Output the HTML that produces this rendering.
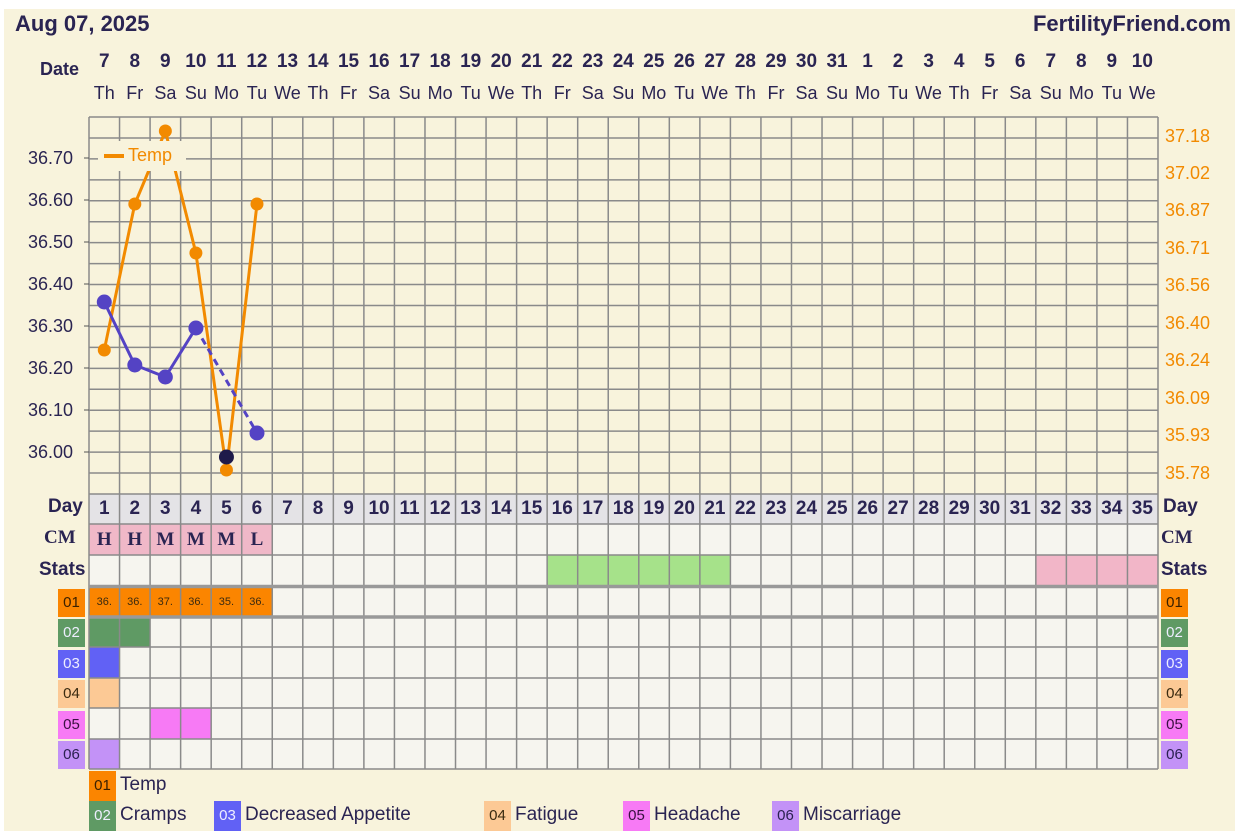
<!DOCTYPE html>
<html><head><meta charset="utf-8"><style>
*{margin:0;padding:0;box-sizing:border-box}
body{width:1239px;height:839px;background:#fff;position:relative;overflow:hidden;font-family:"Liberation Sans",sans-serif;color:#2a2452}
#panel{position:absolute;left:4px;top:9px;width:1231px;height:822px;background:#f8f3dc}
.row{position:absolute;left:89px;display:flex;white-space:nowrap}
.row span{display:block;width:30.543px;text-align:center}
.b{font-weight:bold}
.abs{position:absolute;white-space:nowrap}
.sq{position:absolute;width:27px;height:28px;font-size:15px;line-height:28px;text-align:center}
.lg{position:absolute;font-size:19px;line-height:28px;white-space:nowrap;color:#2a2452}
.lg i{display:inline-block;font-style:normal;width:27px;height:30px;line-height:30px;text-align:center;font-size:15px;margin-right:4px;vertical-align:top}
svg{position:absolute;left:0;top:0}
</style></head><body>
<div id="panel"></div>
<svg id="s" width="1239" height="839"></svg>
<div class="abs b" style="left:15px;top:11px;font-size:22px">Aug 07, 2025</div>
<div class="abs b" style="right:8px;top:11px;font-size:22px">FertilityFriend.com</div>
<div class="abs b" style="left:40px;top:59px;font-size:18px">Date</div>
<div class="row b" style="top:51px;font-size:19px"><span>7</span><span>8</span><span>9</span><span>10</span><span>11</span><span>12</span><span>13</span><span>14</span><span>15</span><span>16</span><span>17</span><span>18</span><span>19</span><span>20</span><span>21</span><span>22</span><span>23</span><span>24</span><span>25</span><span>26</span><span>27</span><span>28</span><span>29</span><span>30</span><span>31</span><span>1</span><span>2</span><span>3</span><span>4</span><span>5</span><span>6</span><span>7</span><span>8</span><span>9</span><span>10</span></div>
<div class="row" style="top:83px;font-size:18px"><span>Th</span><span>Fr</span><span>Sa</span><span>Su</span><span>Mo</span><span>Tu</span><span>We</span><span>Th</span><span>Fr</span><span>Sa</span><span>Su</span><span>Mo</span><span>Tu</span><span>We</span><span>Th</span><span>Fr</span><span>Sa</span><span>Su</span><span>Mo</span><span>Tu</span><span>We</span><span>Th</span><span>Fr</span><span>Sa</span><span>Su</span><span>Mo</span><span>Tu</span><span>We</span><span>Th</span><span>Fr</span><span>Sa</span><span>Su</span><span>Mo</span><span>Tu</span><span>We</span></div>
<div class="abs" style="left:28px;top:147.5px;font-size:18px;line-height:21px">36.70<br><br>36.60<br><br>36.50<br><br>36.40<br><br>36.30<br><br>36.20<br><br>36.10<br><br>36.00</div>
<div class="abs" style="left:1165px;top:126.6px;font-size:18px;line-height:18.72px;color:#f28a00">37.18<br><br>37.02<br><br>36.87<br><br>36.71<br><br>36.56<br><br>36.40<br><br>36.24<br><br>36.09<br><br>35.93<br><br>35.78</div>
<div class="abs" style="left:98px;top:141px;width:88px;height:30px;background:#f8f3dc;font-size:18px;line-height:28px;color:#f28a00"><span style="display:inline-block;width:20px;height:4px;background:#f28a00;vertical-align:middle;margin:0 4px 0 6px"></span>Temp</div>
<div class="row b" style="top:497px;font-size:19px;line-height:24px"><span>1</span><span>2</span><span>3</span><span>4</span><span>5</span><span>6</span><span>7</span><span>8</span><span>9</span><span>10</span><span>11</span><span>12</span><span>13</span><span>14</span><span>15</span><span>16</span><span>17</span><span>18</span><span>19</span><span>20</span><span>21</span><span>22</span><span>23</span><span>24</span><span>25</span><span>26</span><span>27</span><span>28</span><span>29</span><span>30</span><span>31</span><span>32</span><span>33</span><span>34</span><span>35</span></div>
<div class="row b" style="top:528px;font-size:19px;line-height:24px;font-family:'Liberation Serif',serif"><span>H</span><span>H</span><span>M</span><span>M</span><span>M</span><span>L</span></div>
<div class="row" style="top:594px;font-size:11px;line-height:16px;color:#3a2a10"><span>36.</span><span>36.</span><span>37.</span><span>36.</span><span>35.</span><span>36.</span></div>
<div class="abs b" style="left:48px;top:496px;font-size:19px">Day</div>
<div class="abs b" style="left:44px;top:527px;font-size:19px;font-family:'Liberation Serif',serif">CM</div>
<div class="abs b" style="left:39px;top:559px;font-size:19px">Stats</div>
<div class="abs b" style="left:1163px;top:496px;font-size:19px">Day</div>
<div class="abs b" style="left:1161px;top:527px;font-size:19px;font-family:'Liberation Serif',serif">CM</div>
<div class="abs b" style="left:1161px;top:559px;font-size:19px">Stats</div>
<div class="sq" style="left:58px;top:589px;background:#fb8500;color:#3a2000">01</div>
<div class="sq" style="left:58px;top:619px;background:#5f9a64;color:#eef">02</div>
<div class="sq" style="left:58px;top:650px;background:#6161f5;color:#eef">03</div>
<div class="sq" style="left:58px;top:680px;background:#fcc995;color:#3a2a10">04</div>
<div class="sq" style="left:58px;top:711px;background:#f77af5;color:#3a1040">05</div>
<div class="sq" style="left:58px;top:741px;background:#c392f7;color:#2a2050">06</div>
<div class="sq" style="left:1161px;top:589px;background:#fb8500;color:#3a2000">01</div>
<div class="sq" style="left:1161px;top:619px;background:#5f9a64;color:#eef">02</div>
<div class="sq" style="left:1161px;top:650px;background:#6161f5;color:#eef">03</div>
<div class="sq" style="left:1161px;top:680px;background:#fcc995;color:#3a2a10">04</div>
<div class="sq" style="left:1161px;top:711px;background:#f77af5;color:#3a1040">05</div>
<div class="sq" style="left:1161px;top:741px;background:#c392f7;color:#2a2050">06</div>
<div class="lg" style="left:89px;top:771px"><i style="background:#fb8500;color:#3a2000">01</i>Temp</div>
<div class="lg" style="left:89px;top:801px"><i style="background:#5f9a64;color:#eef">02</i>Cramps</div>
<div class="lg" style="left:214px;top:801px"><i style="background:#6161f5;color:#eef">03</i>Decreased Appetite</div>
<div class="lg" style="left:484px;top:801px"><i style="background:#fcc995;color:#3a2a10">04</i>Fatigue</div>
<div class="lg" style="left:623px;top:801px"><i style="background:#f77af5;color:#3a1040">05</i>Headache</div>
<div class="lg" style="left:772px;top:801px"><i style="background:#c392f7;color:#2a2050">06</i>Miscarriage</div>
<script>
var s=document.getElementById('s'),h='';
var X0=89,W=30.543,X1=1158;
function cx(i){return X0+W*(i+.5)}
function r(x,y,w,hh,f){h+='<rect x="'+x+'" y="'+y+'" width="'+w+'" height="'+hh+'" fill="'+f+'"/>'}
r(X0,494,X1-X0,275,'#f6f5ef');
r(X0,494,X1-X0,30,'#e4e3e6');
for(var i=0;i<6;i++)r(X0+W*i,524,W,31,'#f0b8c8');
for(var i=15;i<21;i++)r(X0+W*i,555,W,31,'#a6e28a');
for(var i=31;i<35;i++)r(X0+W*i,555,W,31,'#f2b6c8');
for(var i=0;i<6;i++)r(X0+W*i,587,W,30,'#fb8500');
r(X0,617,W*2,30,'#5f9a64');
r(X0,647,W,31,'#6161f5');
r(X0,678,W,30,'#fcc995');
r(X0+W*2,708,W*2,31,'#f77af5');
r(X0,739,W,30,'#c392f7');
var L='stroke="#8a8a8a" stroke-width="1.5"';
for(var i=0;i<=35;i++){var x=X0+W*i;h+='<line x1="'+x+'" y1="117" x2="'+x+'" y2="769" '+L+'/>';}
for(var k=0;k<=18;k++){var y=117+k*377/18;h+='<line x1="'+X0+'" y1="'+y+'" x2="'+X1+'" y2="'+y+'" '+L+'/>';}
[524,555,647,678,708,739,769].forEach(function(y){h+='<line x1="'+X0+'" y1="'+y+'" x2="'+X1+'" y2="'+y+'" '+L+'/>';});
[586.5,617].forEach(function(y){h+='<line x1="'+X0+'" y1="'+y+'" x2="'+X1+'" y2="'+y+'" stroke="#999" stroke-width="3.5"/>';});
for(var k=0;k<8;k++){var y=158+k*42;h+='<line x1="84" y1="'+y+'" x2="89" y2="'+y+'" stroke="#555"/>';}
var o=[350,204,131,253,470,204],pts=o.map(function(y,i){return cx(i)+','+y}).join(' ');
h+='<polyline points="'+pts+'" fill="none" stroke="#f28a00" stroke-width="3"/>';
o.forEach(function(y,i){h+='<circle cx="'+cx(i)+'" cy="'+y+'" r="6.5" fill="#f28a00"/>'});
var p=[302,365,377,328];
h+='<polyline points="'+p.map(function(y,i){return cx(i)+','+y}).join(' ')+'" fill="none" stroke="#5443c4" stroke-width="3"/>';
h+='<line x1="'+cx(3)+'" y1="328" x2="'+cx(5)+'" y2="433" stroke="#5443c4" stroke-width="3" stroke-dasharray="7,5"/>';
p.forEach(function(y,i){h+='<circle cx="'+cx(i)+'" cy="'+y+'" r="7.5" fill="#5443c4"/>'});
h+='<circle cx="'+cx(5)+'" cy="433" r="7.5" fill="#5443c4"/>';
h+='<circle cx="'+cx(4)+'" cy="457" r="7.5" fill="#1e1a4a"/>';
s.innerHTML=h;
</script>
</body></html>
